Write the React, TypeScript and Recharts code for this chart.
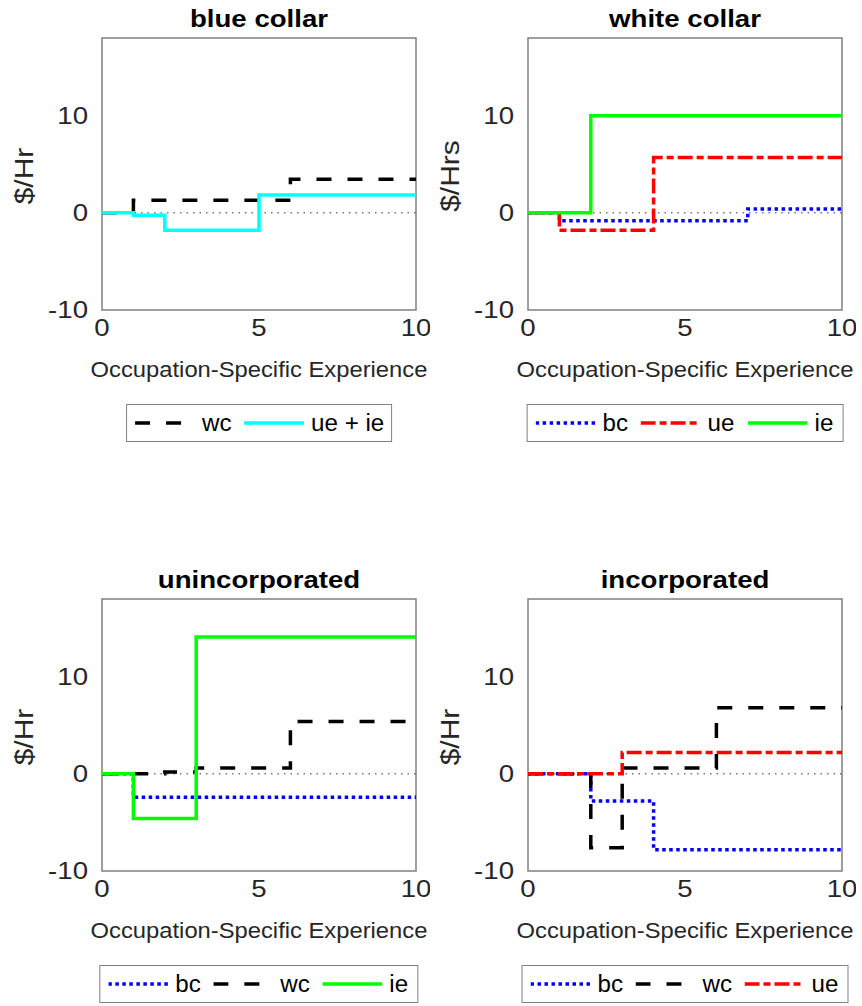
import React from 'react'
import { LineChart, Line, XAxis, YAxis, ReferenceLine, ReferenceArea } from 'recharts'

// step points: experience where the premium changes, and premium from there on
const bcWcX = [0, 1, 6, 10]
const bcWcY = [0, 1.3, 3.45, 3.45]
const bcUeIeX = [0, 1, 2, 5, 10]
const bcUeIeY = [0, -0.25, -1.8, 1.85, 1.85]

const wcBcX = [0, 1, 7, 10]
const wcBcY = [0, -0.8, 0.4, 0.4]
const wcUeX = [0, 1, 4, 10]
const wcUeY = [0, -1.8, 5.7, 5.7]
const wcIeX = [0, 2, 10]
const wcIeY = [0, 10, 10]

const ueBcX = [0, 1, 10]
const ueBcY = [0, -2.4, -2.4]
const ueWcX = [0, 2, 3, 6, 10]
const ueWcY = [0, 0.2, 0.6, 5.4, 5.4]
const ueIeX = [0, 1, 3, 10]
const ueIeY = [0, -4.6, 14.1, 14.1]

const ieBcX = [0, 2, 4, 10]
const ieBcY = [0, -2.8, -7.8, -7.8]
const ieWcX = [0, 2, 3, 6, 10]
const ieWcY = [0, -7.6, 0.6, 6.8, 6.8]
const ieUeX = [0, 3, 10]
const ieUeY = [0, 2.2, 2.2]

const xTicks = [0, 5, 10]
const yTicks = [-10, 0, 10]
const titles = ['blue collar', 'white collar', 'unincorporated', 'incorporated']
const yLabels = ['$/Hr', '$/Hrs', '$/Hr', '$/Hr']

const STYLES: Record<string, { color: string; dash?: string }> = {
  bc: { color: '#0000ff', dash: '3.5 3.5' },
  wc: { color: '#000000', dash: '15 16' },
  ue: { color: '#ff0000', dash: '15 4 7 4' },
  ie: { color: '#00ff00' },
  ueie: { color: '#00ffff' },
}

const toRows = (xs: number[], ys: number[]) => xs.map((x, i) => ({ x, y: ys[i] }))

type Series = { kind: string; name: string; data: { x: number; y: number }[] }

const panels: { left: number; top: number; series: Series[] }[] = [
  {
    left: 0,
    top: 0,
    series: [
      { kind: 'wc', name: 'wc', data: toRows(bcWcX, bcWcY) },
      { kind: 'ueie', name: 'ue + ie', data: toRows(bcUeIeX, bcUeIeY) },
    ],
  },
  {
    left: 426,
    top: 0,
    series: [
      { kind: 'bc', name: 'bc', data: toRows(wcBcX, wcBcY) },
      { kind: 'ue', name: 'ue', data: toRows(wcUeX, wcUeY) },
      { kind: 'ie', name: 'ie', data: toRows(wcIeX, wcIeY) },
    ],
  },
  {
    left: 0,
    top: 561,
    series: [
      { kind: 'bc', name: 'bc', data: toRows(ueBcX, ueBcY) },
      { kind: 'wc', name: 'wc', data: toRows(ueWcX, ueWcY) },
      { kind: 'ie', name: 'ie', data: toRows(ueIeX, ueIeY) },
    ],
  },
  {
    left: 426,
    top: 561,
    series: [
      { kind: 'bc', name: 'bc', data: toRows(ieBcX, ieBcY) },
      { kind: 'wc', name: 'wc', data: toRows(ieWcX, ieWcY) },
      { kind: 'ue', name: 'ue', data: toRows(ieUeX, ieUeY) },
    ],
  },
]

const FONT = '"Liberation Sans", Arial, Helvetica, sans-serif'
const PLOT_L = 102
const PLOT_T = 38
const PLOT_W = 314
const PLOT_H = 272

function XTick({ x, y, payload }: any) {
  return (
    <text
      transform={`translate(${x},${y + 10}) scale(1.2,1)`}
      textAnchor="middle"
      dominantBaseline="central"
      fontSize={23}
      fill="#262626"
      fontFamily={FONT}
    >
      {payload.value}
    </text>
  )
}

function YTick({ x, y, payload }: any) {
  return (
    <text
      transform={`translate(${x},${y}) scale(1.2,1)`}
      textAnchor="end"
      dominantBaseline="central"
      fontSize={23}
      fill="#262626"
      fontFamily={FONT}
    >
      {payload.value}
    </text>
  )
}

function Centered({ x, y, size, bold, children, rotate, stretch = 1.15 }: any) {
  return (
    <div
      style={{
        position: 'absolute',
        left: x,
        top: y,
        transform: rotate
          ? `translate(-50%,-50%) rotate(-90deg) scaleX(${stretch})`
          : `translate(-50%,-50%) scaleX(${stretch})`,
        fontFamily: FONT,
        fontSize: size,
        fontWeight: bold ? 'bold' : 'normal',
        color: bold ? '#000' : '#262626',
        whiteSpace: 'nowrap',
        lineHeight: 1,
      }}
    >
      {children}
    </div>
  )
}

function LegendBox({ series, cx, top }: { series: Series[]; cx: number; top: number }) {
  return (
    <div
      style={{
        position: 'absolute',
        left: cx,
        top,
        transform: 'translateX(-50%)',
        border: '1.5px solid #808080',
        height: 36,
        display: 'flex',
        alignItems: 'center',
        padding: '0 8px',
        background: '#fff',
        whiteSpace: 'nowrap',
      }}
    >
      {series.map((s, i) => {
        const st = STYLES[s.kind]
        return (
          <div key={i} style={{ display: 'flex', alignItems: 'center', marginLeft: i ? 12 : 0 }}>
            <svg width={60} height={10}>
              <line x1={0} x2={60} y1={5} y2={5} stroke={st.color} strokeWidth={3.5} strokeDasharray={st.dash} />
            </svg>
            <span
              style={{
                fontFamily: FONT,
                fontSize: 23,
                color: '#000',
                marginLeft: 7,
                display: 'inline-block',
                transform: 'scaleX(1.05)',
                transformOrigin: 'left center',
                marginRight: 2,
              }}
            >
              {s.name}
            </span>
          </div>
        )
      })}
    </div>
  )
}

function Panel({ idx }: { idx: number }) {
  const p = panels[idx]
  const cx = p.left + PLOT_L + PLOT_W / 2
  return (
    <>
      <div style={{ position: 'absolute', left: p.left, top: p.top }}>
        <LineChart
          width={430}
          height={400}
          margin={{ top: PLOT_T, right: 430 - PLOT_L - PLOT_W, bottom: 400 - PLOT_T - PLOT_H - 60, left: 0 }}
        >
          <XAxis
            dataKey="x"
            type="number"
            domain={[0, 10]}
            ticks={xTicks}
            allowDataOverflow
            axisLine={false}
            tickLine={false}
            tick={<XTick />}
            height={60}
            interval={0}
          />
          <YAxis
            type="number"
            domain={[-10, 18]}
            ticks={yTicks}
            allowDataOverflow
            axisLine={false}
            tickLine={false}
            tick={<YTick />}
            tickMargin={8}
            width={PLOT_L}
            interval={0}
          />
          <ReferenceLine y={0} stroke="#333" strokeWidth={1} strokeDasharray="1.5 5" />
          {p.series.map((s, i) => (
            <Line
              key={i}
              data={s.data}
              dataKey="y"
              type="stepAfter"
              stroke={STYLES[s.kind].color}
              strokeDasharray={STYLES[s.kind].dash}
              strokeWidth={3.5}
              dot={false}
              activeDot={false}
              isAnimationActive={false}
            />
          ))}
          <ReferenceArea x1={0} x2={10} y1={-10} y2={18} fill="none" stroke="#808080" strokeWidth={1.5} />
        </LineChart>
      </div>
      <Centered x={cx} y={p.top + 19} size={24} bold>
        {titles[idx]}
      </Centered>
      <Centered x={p.left + 24} y={p.top + PLOT_T + PLOT_H / 2 + 2} size={25} rotate stretch={1.2}>
        {yLabels[idx]}
      </Centered>
      <Centered x={cx} y={p.top + PLOT_T + PLOT_H + 60} size={22} stretch={1.08}>
        Occupation-Specific Experience
      </Centered>
      <LegendBox series={p.series} cx={cx} top={p.top + PLOT_T + PLOT_H + 94} />
    </>
  )
}

export default function App() {
  return (
    <div style={{ position: 'absolute', left: 0, top: 0, width: 862, height: 1006, background: '#fff' }}>
      {panels.map((_, i) => (
        <Panel key={i} idx={i} />
      ))}
    </div>
  )
}
